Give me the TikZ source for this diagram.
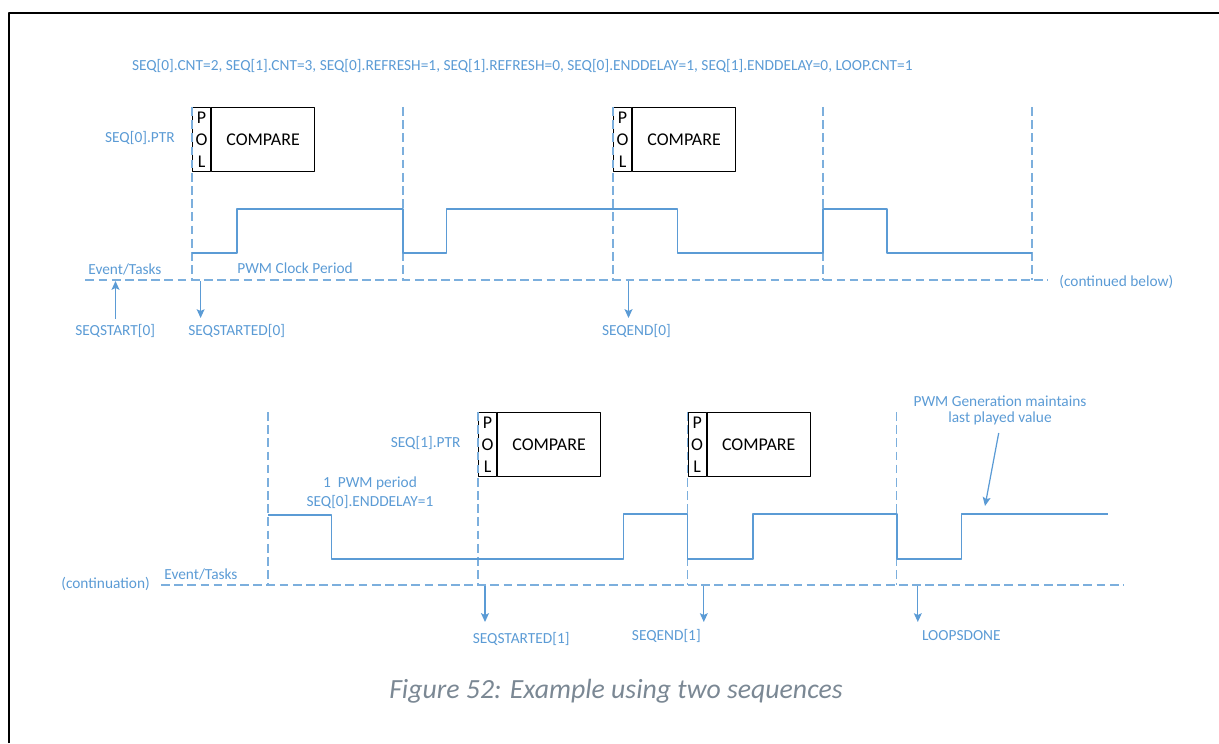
\documentclass[tikz,border=0pt]{standalone}
\usepackage{fontspec}
\setmainfont{Carlito}
\usetikzlibrary{positioning,arrows.meta}
\definecolor{seqblue}{HTML}{5B9BD5}
\definecolor{capgray}{HTML}{7B8894}
\tikzset{
  lbl/.style={text=seqblue,font=\fontsize{8.75}{10.5}\selectfont,inner sep=0pt},
  sig/.style={seqblue,line width=0.8pt},
  grid/.style={seqblue!80,line width=0.6pt,dash pattern=on 5pt off 2.5pt},
  polcol/.style={draw,line width=0.6pt,minimum width=18*0.02cm,minimum height=64*0.02cm,inner sep=0pt,
    align=center,font=\fontsize{10.2}{12.5}\selectfont},
  cmpcol/.style={draw,line width=0.6pt,minimum width=103*0.02cm,minimum height=64*0.02cm,inner sep=0pt,
    font=\fontsize{10.2}{12.5}\selectfont},
  evt/.style={seqblue,line width=0.7pt,-{Stealth[length=5pt,width=4.5pt,inset=1pt]}}
}
\begin{document}
\begin{tikzpicture}[x=0.02cm,y=-0.02cm,line join=round]
	\useasboundingbox (0,0) rectangle (1219,743);
	% frame
	\draw[line width=1.1pt] (8.7,743) -- (8.7,13.3) -- (1219,13.3);
	% first sequence
	\node[lbl,anchor=west] (cfg) at (131.7,66) {SEQ[0].CNT=2, SEQ[1].CNT=3, SEQ[0].REFRESH=1, SEQ[1].REFRESH=0, SEQ[0].ENDDELAY=1, SEQ[1].ENDDELAY=0, LOOP.CNT=1};
	\node[lbl,anchor=east] (ptrA) at (175,138) {SEQ[0].PTR};
	\node[polcol,anchor=north west] (polA) at (192,107) {P\\O\\L};
	\node[cmpcol,right=0pt of polA] (cmpA) {COMPARE};
	\node[polcol,anchor=north west] (polB) at (613,107) {P\\O\\L};
	\node[cmpcol,right=0pt of polB] (cmpB) {COMPARE};
	\foreach \x in {192,403,613,823,1032}
		\draw[grid] (\x,107) -- (\x,280);
	\draw[grid] (85.4,280) -- (1048,280);
	\draw[sig] (192,253) -| (237,209) -| (403,253) -| (446.4,209) -| (677.4,253) -| (823,209) -| (887,253) -- (1032,253);
	\node[lbl,anchor=west] (evtA) at (88,269) {Event/Tasks};
	\node[lbl,anchor=west] (clk) at (237,268) {PWM Clock Period};
	\node[lbl,anchor=west] (cont) at (1059,282) {(continued below)};
	\node[lbl,anchor=west] (start0) at (75,331) {SEQSTART[0]};
	\node[lbl,anchor=west] (started0) at (188,331) {SEQSTARTED[0]};
	\node[lbl,anchor=west] (end0) at (601.7,331) {SEQEND[0]};
	\coordinate (tA) at (115.5,281);
	\coordinate (tAbot) at (115.5,319);
	\coordinate (eA) at (200.6,281);
	\coordinate (eAend) at (200.6,318);
	\coordinate (eB) at (628.5,281);
	\coordinate (eBend) at (628.5,318);
	\draw[evt] (tAbot) -- (tA);
	\draw[evt] (eA) -- (eAend);
	\draw[evt] (eB) -- (eBend);
	% second sequence
	\node[lbl,anchor=east] (ptrB) at (460.7,443) {SEQ[1].PTR};
	\node[polcol,anchor=north west] (polC) at (478,412) {P\\O\\L};
	\node[cmpcol,right=0pt of polC] (cmpC) {COMPARE};
	\node[polcol,anchor=north west] (polD) at (687.6,412) {P\\O\\L};
	\node[cmpcol,right=0pt of polD] (cmpD) {COMPARE};
	\foreach \x in {268,478,687.6,896.9}
		\draw[grid] (\x,412) -- (\x,585);
	\draw[grid] (161,585) -- (1123,585);
	\draw[sig] (268,515) -| (331.4,559) -| (623.7,514) -| (687.6,559) -| (752.8,514) -| (896.9,559) -| (961.6,514) -- (1108,514);
	\node[lbl,anchor=west] (contd) at (61,584) {(continuation)};
	\node[lbl,anchor=west] (evtB) at (164,574) {Event/Tasks};
	\node[lbl] (delay) at (370,483) {1~~PWM period};
	\node[lbl] (delayB) at (370,502) {SEQ[0].ENDDELAY=1};
	\node[lbl,anchor=west] (started1) at (472.5,639) {SEQSTARTED[1]};
	\node[lbl,anchor=west] (end1) at (631.6,636) {SEQEND[1]};
	\node[lbl,anchor=west] (loops) at (921.7,636) {LOOPSDONE};
	\node[lbl] (hold) at (1000,401) {PWM Generation maintains};
	\node[lbl] (holdB) at (1000,418) {last played value};
	\coordinate (eC) at (485,586);
	\coordinate (eCend) at (485,622);
	\coordinate (eD) at (703.8,586);
	\coordinate (eDend) at (703.8,622);
	\coordinate (eE) at (917.8,586);
	\coordinate (eEend) at (917.8,622);
	\coordinate (hold tail) at (998.7,433);
	\coordinate (hold tip) at (985,506);
	\draw[evt] (eC) -- (eCend);
	\draw[evt] (eD) -- (eDend);
	\draw[evt] (eE) -- (eEend);
	\draw[evt] (hold tail) -- (hold tip);
	% caption
	\node[text=capgray,font=\fontsize{15.8}{19}\itshape\selectfont] (cap) at (616,691) {Figure 52: Example using two sequences};
\end{tikzpicture}
\end{document}
